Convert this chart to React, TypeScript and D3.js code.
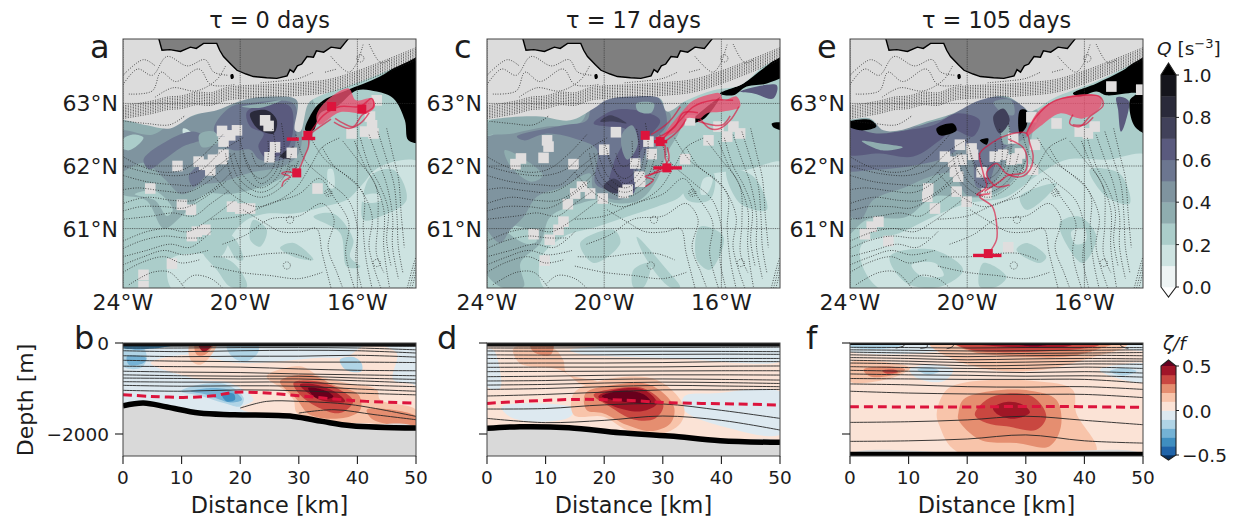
import React from "react";
import * as d3 from "d3";

type Pt = [number, number];
type Layer = [number, Pt[]];

// colour bands of the two colour bars
const qColors = ["#eef4f4", "#cde3e1", "#abcdca", "#8fadaf", "#7f949f", "#6c7690", "#5a5a7e", "#41415a", "#2a2a3a", "#15151c", "#000000"];
const zetaColors = ["#053061", "#1f63a8", "#3f8ec0", "#74b2d5", "#b0d4e6", "#dde9f0", "#fbe3d6", "#f8c4aa", "#e58e70", "#c94741", "#a01528", "#67001f"];
const qTicks = [0, 0.2, 0.4, 0.6, 0.8, 1];
const zetaTicks = [-0.5, 0, 0.5];
const lonTicks = [-24, -20, -16];
const latTicks = [61, 62, 63];
const kmTicks = [0, 10, 20, 30, 40, 50];
const depthTicks = [0, -2000];

// ---- map data, lon/lat ----
const land: Pt[] = [[-22.78, 64.1], [-22.78, 64.04], [-22.67, 63.85], [-22.4, 63.86], [-22.04, 63.83], [-21.7, 63.9], [-21.5, 63.88], [-21.25, 63.96], [-20.8, 63.96], [-20.7, 63.85], [-20.57, 63.75], [-20.3, 63.62], [-20.11, 63.53], [-19.8, 63.47], [-19.55, 63.43], [-19.1, 63.41], [-18.75, 63.4], [-18.4, 63.44], [-18.3, 63.54], [-18.18, 63.5], [-18.05, 63.6], [-17.9, 63.63], [-17.72, 63.75], [-17.5, 63.74], [-17.4, 63.84], [-17.15, 63.82], [-16.9, 63.9], [-16.58, 63.88], [-16.3, 64.04], [-16.3, 64.1]];
const island: Pt[] = [[-20.33, 63.46], [-20.25, 63.47], [-20.22, 63.41], [-20.3, 63.39]];

const slopeBand: Pt[] = [[-24, 62.76], [-23, 62.84], [-22.5, 62.9], [-22, 62.92], [-21.5, 62.98], [-21, 62.97], [-20.5, 63.05], [-20, 63.08], [-19, 63.1], [-18, 63.13], [-17, 63.18], [-16, 63.32], [-15, 63.5], [-14, 63.69]];
const slopeOffsets = [0, 0.025, 0.05, 0.075, 0.1, 0.125, 0.15, 0.175, 0.2];
const bathyLines: Pt[][] = [
  [[-23.8, 63.15], [-23, 63.2], [-22.7, 63.5], [-22.2, 63.35], [-21.4, 63.55], [-21, 63.3], [-20.2, 63.3]],
  [[-24, 63.3], [-23.5, 63.55], [-23, 63.45], [-22.5, 63.75], [-21.8, 63.6], [-21.2, 63.7], [-20.9, 63.5], [-20.4, 63.45]],
  [[-24, 63.45], [-23.3, 63.7], [-22.9, 63.6]],
  [[-22.9, 63.1], [-22.3, 63.25], [-21.5, 63.2], [-20.8, 63.38], [-20.5, 63.6]],
  [[-19.3, 63.33], [-18.6, 63.36], [-18, 63.4], [-17.5, 63.5]],
  [[-17.1, 63.5], [-16.7, 63.55]],
  [[-24, 62.72], [-23.2, 62.68], [-22.4, 62.66], [-21.9, 62.8]],
  [[-16.9, 63.75], [-16.3, 63.5], [-16.05, 63.62], [-15.8, 63.95]],
  [[-15.6, 63.95], [-15.2, 63.65], [-14.9, 63.7]],
  [[-20.6, 62.5], [-21.2, 62.2], [-21.9, 61.95], [-22.6, 61.9], [-23.4, 62], [-24, 62.15]],
  [[-19.9, 62.45], [-20.6, 62.25], [-21.3, 61.95], [-22, 61.85], [-23, 61.88], [-24, 62]],
  [[-20.2, 62.2], [-20.9, 61.95], [-21.5, 61.7], [-22.2, 61.7], [-23.2, 61.75], [-24, 61.85]],
  [[-20.4, 62.05], [-21.1, 61.75], [-21.8, 61.58], [-22.6, 61.6], [-23.5, 61.65], [-24, 61.62]],
  [[-20.3, 61.9], [-21, 61.6], [-21.6, 61.45], [-22.3, 61.45], [-23.2, 61.5], [-24, 61.4]],
  [[-20.5, 61.75], [-21.2, 61.5], [-21.9, 61.33], [-22.6, 61.35], [-23.4, 61.35], [-24, 61.28]],
  [[-20.4, 61.6], [-21, 61.4], [-21.6, 61.2], [-22.3, 61.25], [-23, 61.2], [-24, 61.15]],
  [[-20.2, 61.45], [-21.2, 61.1], [-21.8, 60.95], [-22.5, 61], [-23.2, 60.95], [-24, 60.8]],
  [[-21.3, 60.85], [-21.9, 60.85], [-22.6, 60.88], [-23.4, 60.8], [-24, 60.68]],
  [[-21, 60.95], [-21.7, 60.7], [-22.4, 60.75], [-23.2, 60.65], [-24, 60.55]],
  [[-21.1, 60.65], [-21.9, 60.58], [-22.6, 60.65], [-23.3, 60.55], [-24, 60.42]],
  [[-21.4, 60.5], [-22, 60.45], [-22.6, 60.55], [-23.4, 60.45], [-24, 60.3]],
  [[-21.9, 60.05], [-22.4, 60.3], [-23, 60.3], [-23.8, 60.1]],
  [[-20.6, 60.05], [-21, 60.2], [-21.6, 60.25], [-22, 60.1]],
  [[-20.2, 62.2], [-19.9, 61.85], [-19.3, 61.65], [-18.7, 61.85], [-18.5, 62.3], [-18.6, 62.7]],
  [[-20, 62.4], [-19.75, 62.05], [-19.3, 61.72], [-18.8, 61.9], [-18.6, 62.3]],
  [[-19.9, 62.2], [-19.7, 61.95], [-19.3, 61.8], [-18.9, 61.95], [-18.8, 62.3], [-18.9, 62.6]],
  [[-20.35, 62.2], [-20.05, 61.8], [-19.3, 61.58], [-18.55, 61.8], [-18.25, 62.2]],
  [[-20.5, 62.2], [-20.2, 61.75], [-19.3, 61.5], [-18.4, 61.75], [-18, 62.1]],
  [[-19.6, 62.2], [-19.4, 62], [-19.1, 62.05], [-19.05, 62.4]],
  [[-21, 61.9], [-20.3, 61.55], [-19.4, 61.35], [-18.2, 61.6], [-17.6, 62], [-17.2, 62.3], [-16.6, 62.45]],
  [[-18.1, 62.5], [-17.8, 62.1], [-17, 61.75], [-16.3, 61.45], [-16, 61], [-16.05, 60.5], [-15.85, 60.05]],
  [[-17.6, 62.45], [-17.1, 62.1], [-16.4, 61.85], [-15.8, 61.55], [-15.8, 61], [-15.7, 60.5], [-15.5, 60.05]],
  [[-17.2, 62.3], [-16.8, 62], [-16, 61.7], [-15.5, 61.2], [-15.6, 60.7], [-15.2, 60.05]],
  [[-16.5, 62.4], [-16, 62.1], [-15.5, 61.8], [-15.1, 61.3], [-15.1, 60.7], [-14.9, 60.05]],
  [[-16.1, 62.4], [-15.75, 62], [-15.35, 61.65], [-15.3, 61.1], [-15.35, 60.6], [-15.1, 60.3]],
  [[-15.9, 62.45], [-15.6, 62], [-15.25, 61.7], [-14.95, 61.3], [-15, 60.8], [-14.85, 60.4]],
  [[-15.6, 62.5], [-15.3, 62.1], [-15, 61.7], [-14.8, 61.2], [-14.8, 60.7], [-14.6, 60.2]],
  [[-15.3, 62.55], [-15, 62.1], [-14.75, 61.7], [-14.65, 61.2], [-14.6, 60.7], [-14.45, 60.3]],
  [[-15, 62.6], [-14.8, 62.2], [-14.6, 61.8], [-14.5, 61.2], [-14.4, 60.7]],
  [[-21, 61.15], [-20, 61.2], [-19, 61.4], [-18, 61.55], [-17.3, 61.8], [-16.8, 61.5], [-16.3, 61.1], [-16.4, 60.6], [-16.1, 60.05]],
  [[-20.6, 60.75], [-19.8, 60.9], [-19, 61.15], [-18, 61.2], [-17.2, 61.4], [-16.8, 61.15], [-17, 60.7], [-16.7, 60.3], [-16.5, 60.05]],
  [[-19.9, 61.3], [-19.2, 61.1], [-18.6, 60.95], [-17.9, 60.95], [-17.4, 61], [-17.2, 60.6], [-16.9, 60.05]],
  [[-20.9, 60.55], [-19.9, 60.55], [-19, 60.6], [-18.2, 60.6], [-17.6, 60.5]],
  [[-21, 60.4], [-20, 60.3], [-19, 60.25], [-18, 60.2], [-17.2, 60.3]],
  [[-14.3, 60.05], [-14.1, 60.4], [-14, 60.55]],
  [[-14.22, 60.05], [-14.05, 60.35], [-14, 60.45]],
  [[-14.14, 60.05], [-14.03, 60.25], [-14, 60.33]],
];
const bathyRings: Pt[] = [[-16.99, 61.57], [-16.99, 61.57], [-18.41, 60.41], [-18.3, 61.14], [-15.34, 60.45], [-15.9, 63.72], [-18.2, 61.95]];

const aShelf: Pt[] = [[-24.3, 64.3], [-24.3, 62.74], [-24, 62.74], [-23.18, 62.65], [-22.39, 62.6], [-21.59, 62.81], [-20.8, 62.89], [-20.23, 63], [-19.66, 63.08], [-18.86, 63.11], [-18.07, 63.05], [-18.13, 62.57], [-17.95, 62.55], [-17.67, 63], [-17.33, 63.11], [-16.36, 63.27], [-15.34, 63.45], [-14, 63.74], [-13.7, 63.85], [-13.7, 64.3]];
const cShelf: Pt[] = [[-24.3, 64.3], [-24.3, 62.74], [-24, 62.74], [-23.2, 62.78], [-22.18, 62.79], [-21.16, 62.73], [-20.36, 62.92], [-19.9, 63.06], [-19.11, 63.11], [-18.09, 63.08], [-17.86, 62.87], [-17.18, 63.05], [-16.27, 63.21], [-15.36, 63.29], [-14.57, 63.59], [-14, 63.74], [-13.7, 63.85], [-13.7, 64.3]];
const eShelf: Pt[] = [[-24.3, 64.3], [-24.3, 62.74], [-24, 62.74], [-23.32, 62.76], [-22.86, 62.57], [-22.3, 62.57], [-21.39, 62.71], [-20.48, 62.84], [-19.57, 63.05], [-18.66, 63.11], [-18.09, 62.95], [-17.86, 62.87], [-17.07, 63.08], [-16.39, 63.21], [-15.59, 63.35], [-14.68, 63.56], [-14, 63.74], [-13.7, 63.85], [-13.7, 64.3]];

const aQ: Layer[] = [
  [1, [[-22.27, 60], [-22.39, 60.5], [-21.36, 60.6], [-20.68, 60.55], [-20.23, 60.93], [-19.77, 61.14], [-19.09, 61.24], [-18.18, 61.24], [-17.16, 61.35], [-16.36, 61.46], [-15.9, 61.67], [-15.23, 61.99], [-13.8, 62.04], [-13.8, 60]]],
  [2, [[-18.64, 60.69], [-18.18, 60.77], [-17.5, 60.5], [-18.18, 60.55]]],
  [2, [[-17.5, 61.19], [-16.82, 61.24], [-16.14, 60.82], [-16.25, 60.55], [-15.9, 60.39], [-16.36, 60.39], [-16.59, 60.93]]],
  [2, [[-15.57, 61.83], [-14.77, 61.94], [-14.32, 61.46], [-15.23, 61.19], [-15.8, 61.14]]],
  [1, [[-15.9, 61.5], [-15.3, 61.55], [-15.2, 61.45], [-15.8, 61.42]]],
  [2, [[-21.25, 60.6], [-20.23, 60.45], [-19.77, 60.07], [-20.34, 60.07], [-20.8, 60.34]]],
  [2, [[-19.55, 61.14], [-19.09, 60.98], [-19.32, 60.71], [-19.66, 60.82]]],
  [2, [[-20.8, 61], [-20.2, 60.85], [-19.9, 60.5], [-20.1, 60.5], [-20.5, 60.8]]],
  [1, [[-17, 61.95], [-16.85, 61.95], [-16.8, 61.65], [-16.95, 61.65]]],
  [3, [[-24.2, 62.8], [-24.2, 61.6], [-23.2, 61.45], [-22.6, 61], [-22, 61.2], [-21.2, 61.55], [-20.4, 61.55], [-19.4, 61.65], [-18.6, 61.8], [-18, 62], [-17.6, 62.4], [-17.4, 62.9], [-18, 63.3], [-20, 63.3], [-22, 63]]],
  [2, [[-23.6, 61.55], [-22.9, 61.45], [-22.5, 61.2], [-22.3, 61.3], [-22.9, 61.6]]],
  [4, [[-24.2, 62.55], [-24.2, 61.9], [-23.3, 62.05], [-22.6, 61.8], [-22, 61.55], [-21.3, 61.7], [-20.6, 61.75], [-19.6, 61.9], [-18.5, 62], [-18, 62.2], [-17.9, 62.6], [-18.2, 63.2], [-20, 63.2], [-21.3, 62.85], [-22.3, 62.7], [-23, 62.5]]],
  [2, [[-24.2, 62.35], [-23.7, 62.5], [-23.3, 62.45], [-23.8, 62.25]]],
  [1, [[-21.95, 62.6], [-21.7, 62.55], [-21.6, 62.42], [-21.9, 62.45]]],
  [5, [[-23.3, 62.1], [-22.5, 62.4], [-21.6, 62.55], [-21.2, 62.45], [-22, 62.3], [-22.6, 62.1], [-23.1, 61.95]]],
  [5, [[-21.14, 61.88], [-21.6, 61.67], [-21.75, 61.85], [-21, 62.1]]],
  [5, [[-20.9, 62.6], [-20.3, 62.95], [-19.77, 63], [-18.18, 63], [-18.07, 62.68], [-18.3, 62.15], [-19.32, 62.1], [-19.66, 62.26], [-20.23, 62.25], [-20.6, 62.35]]],
  [3, [[-21.4, 62.5], [-20.9, 62.55], [-20.7, 62.4], [-21.3, 62.3]]],
  [6, [[-19.77, 62.87], [-18.86, 63], [-18.3, 62.95], [-18.18, 62.68], [-18.41, 62.26], [-19.09, 62.12], [-19.38, 62.31], [-19.2, 62.52], [-19.66, 62.63]]],
  [8, [[-19.66, 62.84], [-19.09, 62.89], [-18.75, 62.73], [-18.86, 62.52], [-19.32, 62.57], [-19.55, 62.68]]],
  [8, [[-18.64, 62.15], [-18.18, 62.31], [-18.3, 62.12]]],
  [3, [[-19.95, 62.95], [-19.3, 63], [-18.6, 63.05], [-19.3, 62.93]]],
  [10, [[-17.78, 62.57], [-17.5, 62.89], [-17.16, 63.05], [-16.36, 63.21], [-15.23, 63.43], [-13.8, 63.8], [-13.8, 62.39], [-14.26, 62.41], [-14.38, 62.73], [-14.77, 63.08], [-15.34, 63.19], [-16.02, 63.21], [-16.7, 62.95], [-17.27, 62.84], [-17.5, 62.57]]],
];
const cQ: Layer[] = [
  [1, [[-21.95, 60], [-22.18, 60.5], [-21.39, 60.87], [-20.25, 61.03], [-19.23, 61.19], [-18.2, 61.35], [-17.41, 61.51], [-16.95, 61.78], [-16.27, 61.88], [-15.14, 61.94], [-13.8, 62.04], [-13.8, 60]]],
  [2, [[-17.3, 61.78], [-16.27, 61.88], [-16.39, 61.46], [-17.18, 61.46]]],
  [2, [[-16.73, 61.03], [-15.93, 60.87], [-16.39, 60.34], [-16.84, 60.5]]],
  [2, [[-18.89, 60.87], [-17.86, 60.34], [-17.41, 60.06], [-17.75, 60.06], [-18.55, 60.5]]],
  [2, [[-19, 60.34], [-18.43, 60.45], [-18.66, 60.06], [-19, 60.06]]],
  [2, [[-15.82, 61.94], [-14.9, 61.83], [-14.45, 61.3], [-15.36, 61.4]]],
  [2, [[-20.82, 60.77], [-19.68, 60.98], [-19.45, 60.77], [-20.36, 60.45]]],
  [1, [[-16.6, 61.8], [-16.3, 61.82], [-16.5, 61.55], [-16.7, 61.55]]],
  [3, [[-24.2, 62.57], [-24.2, 60.45], [-23.55, 60.07], [-22.75, 60.07], [-22.86, 60.45], [-22.18, 60.77], [-21.84, 61.19], [-20.82, 61.4], [-20.25, 61.46], [-19.45, 61.4], [-18.77, 61.46], [-18.2, 61.78], [-17.86, 62.2], [-17.41, 62.57], [-17.18, 63], [-20.82, 63.2]]],
  [2, [[-24.2, 62.4], [-23.8, 62.5], [-23.5, 62.35], [-23.9, 62.25]]],
  [2, [[-23.5, 61.05], [-22.7, 61], [-22.3, 60.8], [-22.6, 60.75], [-23.2, 60.9]]],
  [4, [[-24.2, 62.41], [-24.2, 61.19], [-23.55, 60.77], [-23.2, 60.98], [-22.75, 61.19], [-22.3, 61.51], [-21.39, 61.67], [-20.48, 61.88], [-20.36, 61.62], [-19.45, 61.46], [-18.77, 61.72], [-18.55, 62.04], [-17.98, 62.47], [-17.75, 62.84], [-20.25, 63.2], [-20.8, 62.7], [-21.95, 62.63], [-23.1, 62.52]]],
  [3, [[-23.4, 62.25], [-22.7, 62.1], [-22.1, 61.85], [-22.5, 61.75], [-23.2, 62]]],
  [5, [[-22.98, 62.47], [-21.39, 62.65], [-20.59, 62.73], [-20.36, 63.05], [-18.3, 63.16], [-17.86, 62.68], [-18.3, 62.41], [-18.77, 62.04], [-19.11, 61.56], [-19.91, 61.62], [-20.3, 61.72], [-20.25, 62.26], [-20.82, 62.41], [-21.95, 62.52], [-22.75, 62.41]]],
  [6, [[-20.36, 62.68], [-19.68, 62.89], [-18.89, 62.89], [-18.09, 62.73], [-18.55, 62.41], [-19, 61.94], [-19, 61.56], [-19.8, 61.67], [-19.68, 62.04], [-19.23, 62.57], [-19.9, 62.63]]],
  [4, [[-19.4, 62.5], [-19.05, 62.65], [-18.85, 62.35], [-19.2, 62.1], [-19.35, 62.2]]],
  [3, [[-18.9, 63], [-18.3, 63], [-18.4, 62.85], [-18.85, 62.88]]],
  [7, [[-20.14, 62.71], [-19.8, 62.81], [-19.23, 62.68], [-19.68, 62.71]]],
  [7, [[-20.02, 61.67], [-19.57, 61.56], [-19.34, 61.67], [-19.68, 61.8]]],
  [6, [[-15.36, 63.19], [-14.11, 63.29], [-14.23, 63.08], [-14.9, 63.16]]],
  [10, [[-16.05, 63.16], [-15.25, 63.32], [-14.57, 63.56], [-13.8, 63.8], [-13.8, 63.48], [-14.45, 63.32], [-15.14, 63.27], [-15.59, 63.13]]],
  [10, [[-14.28, 62.68], [-13.8, 62.68], [-13.8, 62.57], [-14.23, 62.62]]],
  [10, [[-17.1, 62.68], [-16.27, 63.03], [-16.05, 63.1], [-16.6, 62.75]]],
];
const eQ: Layer[] = [
  [1, [[-22.86, 60], [-23.66, 60.55], [-23.55, 60.77], [-22.3, 60.93], [-21.16, 61.19], [-20.02, 61.4], [-18.66, 61.51], [-17.52, 61.88], [-16.61, 62.1], [-15.25, 62.1], [-13.8, 62.15], [-13.8, 60]]],
  [2, [[-16.84, 61.09], [-16.16, 61.19], [-15.59, 60.87], [-16.05, 60.45], [-16.5, 60.66]]],
  [1, [[-16.45, 60.95], [-16, 61], [-15.95, 60.8], [-16.3, 60.75]]],
  [2, [[-17.98, 60.77], [-17.3, 60.55], [-17.52, 60.45], [-18.32, 60.66]]],
  [2, [[-19.45, 60.45], [-18.66, 60.23], [-19, 60.07], [-19.57, 60.07]]],
  [2, [[-18.2, 61.51], [-16.95, 61.72], [-17.3, 61.51], [-17.98, 61.3]]],
  [2, [[-22.64, 60.55], [-21.16, 60.66], [-20.14, 60.34], [-20.93, 60.07], [-22.07, 60.13]]],
  [1, [[-21.9, 60.42], [-21.1, 60.45], [-20.8, 60.25], [-21.6, 60.25]]],
  [2, [[-15.82, 61.94], [-14.8, 61.88], [-14.45, 61.4], [-15.25, 61.51]]],
  [3, [[-24.2, 62.74], [-24.2, 60.87], [-23.43, 61.14], [-22.07, 61.19], [-21.16, 61.51], [-20.36, 61.51], [-19.34, 61.51], [-18.66, 61.67], [-18, 62.04], [-17.75, 62.57], [-17.52, 62.84], [-19.8, 63.2]]],
  [4, [[-24.2, 62.57], [-24.2, 61.3], [-23.66, 61.14], [-23.2, 61.46], [-22.07, 61.67], [-21.27, 61.83], [-20.48, 61.88], [-20.02, 61.54], [-19.34, 61.56], [-18.89, 61.88], [-18.43, 62.31], [-17.86, 62.52], [-17.86, 62.89], [-19.57, 63.16], [-21.16, 62.68]]],
  [5, [[-24.2, 62.2], [-24.2, 61.94], [-23.2, 61.94], [-22.07, 61.99], [-20.93, 62.1], [-19.91, 62.31], [-19.68, 61.67], [-19.34, 61.67], [-18.89, 62.2], [-18.09, 62.57], [-18.09, 62.95], [-19.57, 63.11], [-20.59, 62.79], [-21.39, 62.68], [-22.41, 62.52], [-23.2, 62.41]]],
  [6, [[-24.2, 62.63], [-24.2, 62.2], [-22.98, 62.2], [-21.84, 62.15], [-20.93, 62.41], [-20.48, 62.57], [-19.8, 62.47], [-19.57, 62.73], [-20.36, 62.84], [-21.16, 62.65], [-22.07, 62.57], [-23.1, 62.52]]],
  [3, [[-23.6, 62.4], [-22.8, 62.35], [-22.2, 62.3], [-22.9, 62.25]]],
  [4, [[-19.1, 63.02], [-18.5, 63.05], [-18.4, 62.82], [-18.8, 62.85]]],
  [3, [[-18.85, 62.6], [-18.6, 62.65], [-18.55, 62.35], [-18.75, 62.35]]],
  [7, [[-19.11, 62.79], [-18.77, 62.92], [-18.55, 62.73], [-18.89, 62.52]]],
  [10, [[-21.05, 62.6], [-20.48, 62.68], [-20.36, 62.57], [-20.93, 62.49]]],
  [10, [[-18.2, 62.89], [-17.98, 62.89], [-17.98, 62.63], [-18.2, 62.52]]],
  [10, [[-19.57, 62.41], [-19.28, 62.44], [-19.34, 62.34]]],
  [10, [[-24.2, 62.68], [-23.32, 62.74], [-23.1, 62.63], [-23.66, 62.57]]],
  [6, [[-14.9, 63.1], [-14.5, 63.05], [-14.6, 62.7], [-14.75, 62.55], [-14.85, 62.9]]],
  [10, [[-16.39, 63.16], [-15.59, 63.32], [-14.68, 63.53], [-13.8, 63.8], [-13.8, 62.52], [-14.28, 62.63], [-14.45, 63.05], [-14.23, 63.16], [-15.25, 63.13], [-15.59, 63.19], [-16.16, 63.11]]],
];

const aMasks: Pt[] = [[-19.15, 62.73], [-19.03, 62.64], [-18.81, 62.3], [-19, 62.14], [-18.24, 62.21], [-20.62, 62.56], [-20.34, 62.49], [-20.11, 62.57], [-20.57, 62.39], [-20.57, 62.18], [-20.62, 62.11], [-20.93, 62.1], [-21.42, 62.07], [-21.23, 62.02], [-21.02, 61.93], [-22.14, 62], [-23.07, 61.64], [-21.99, 61.38], [-21.68, 61.3], [-20.28, 61.35], [-20, 61.32], [-19.66, 61.32], [-21.19, 60.98], [-21.48, 60.95], [-21.65, 60.88], [-22.33, 60.44], [-23.3, 60.26], [-23.3, 60.08], [-17.36, 61.64], [-15.34, 63.05], [-16.2, 62.52], [-15.74, 62.55], [-15.45, 62.52], [-15.57, 62.79], [-15.5, 62.65]];
const cMasks: Pt[] = [[-21.95, 62.41], [-21.9, 62.31], [-22.84, 62.12], [-23.03, 62.03], [-22.07, 62.13], [-21.05, 62.03], [-20, 62.26], [-19.6, 62.54], [-18.94, 62.04], [-18.38, 62.19], [-18.8, 61.83], [-18.77, 61.75], [-19.34, 61.57], [-19.2, 61.62], [-20.76, 61.67], [-20.99, 61.56], [-20.48, 61.56], [-20.05, 61.48], [-21.24, 61.39], [-21.39, 61.11], [-21.56, 60.98], [-22.41, 60.91], [-21.86, 60.82], [-22.03, 60.49], [-17.24, 62.11], [-18.49, 62.39], [-17.07, 62.73], [-16.44, 62.41], [-15.59, 62.63], [-15.36, 62.52], [-15.8, 62.47], [-16.1, 62.63]];
const eMasks: Pt[] = [[-20.25, 62.34], [-20.76, 62.15], [-20.48, 62.07], [-20.19, 62.1], [-20.42, 61.91], [-20.31, 61.83], [-19.85, 62.28], [-19.8, 62.18], [-19.51, 61.9], [-19.06, 62.15], [-18.77, 62.18], [-18.49, 62.1], [-18.3, 62.12], [-18.43, 62.44], [-18.2, 62.2], [-17.69, 62.34], [-17.81, 62.78], [-17.75, 61.94], [-20.36, 61.59], [-20.02, 61.43], [-21.33, 61.64], [-21.36, 61.51], [-21.1, 61.32], [-23.03, 61.11], [-23.26, 61.03], [-23.49, 60.91], [-22.69, 60.8], [-18.6, 60.7], [-15.08, 63.27], [-14.06, 63.22], [-16.16, 62.55], [-15.88, 62.52], [-15.65, 62.63], [-16.95, 62.68], [-19.34, 61.56]];

// float tracks, patches where they pile up, marker squares and section bars
const aPatch: Pt[] = [[-17.4, 62.8], [-17.1, 63.02], [-16.3, 63.24], [-16.05, 63.05], [-15.5, 63.08], [-15.4, 62.95], [-15.68, 62.84], [-16.6, 62.86], [-17.3, 62.66]];
const cPatch: Pt[] = [[-17.3, 62.89], [-16.95, 63.05], [-16.27, 63.16], [-16.05, 63.16], [-15.93, 63.05], [-15.48, 63.11], [-15.36, 62.95], [-15.93, 62.87], [-16.5, 62.84], [-16.73, 62.76], [-17.18, 62.76], [-17.3, 62.63], [-17.86, 62.47], [-18.09, 62.41]];
const ePatch: Pt[] = [[-17.64, 62.84], [-17.07, 63.03], [-16.39, 63.13], [-15.48, 63.11], [-15.42, 62.97], [-16.05, 62.76], [-16.84, 62.84], [-17.52, 62.63], [-17.98, 62.47]];
const aTracks: Pt[][] = [
  [[-17.67, 62.49], [-17.39, 62.68], [-17.16, 62.81], [-16.59, 62.95], [-15.91, 62.95], [-15.51, 63.08], [-15.45, 62.95], [-15.85, 62.81], [-16.14, 62.63], [-16.59, 62.71], [-16.76, 62.76]],
  [[-16.8, 62.7], [-16.3, 62.6], [-15.9, 62.68], [-15.6, 62.85]],
  [[-17.67, 62.49], [-17.3, 62.62], [-16.9, 62.75]],
  [[-17.67, 62.49], [-17.67, 62.31], [-17.78, 62.18], [-17.95, 61.99], [-18.07, 61.89], [-18.41, 61.91], [-18.58, 61.88], [-18.3, 61.83], [-18.52, 61.75], [-18.58, 61.67]],
];
const cTracks: Pt[][] = [
  [[-18.09, 62.39], [-17.41, 62.73], [-16.95, 62.95], [-16.3, 63.05], [-15.6, 63.05]],
  [[-18.2, 62.45], [-17.6, 62.62], [-17.3, 62.85], [-16.8, 62.85]],
  [[-18.05, 62.35], [-17.5, 62.55], [-17.2, 62.75]],
  [[-18.4, 62.5], [-17.8, 62.7], [-17.4, 62.95]],
  [[-16.73, 62.76], [-16.39, 62.6], [-16.05, 62.6], [-15.7, 62.73], [-15.4, 62.95]],
  [[-16.8, 62.72], [-16.35, 62.66], [-15.95, 62.66], [-15.7, 62.8]],
  [[-17.92, 62.34], [-17.92, 62.15], [-17.86, 61.97], [-18.32, 61.88], [-18.6, 61.83], [-18.32, 61.78], [-18.6, 61.67]],
  [[-17.85, 62.3], [-17.8, 62.1], [-18.1, 61.95], [-18.45, 61.85]],
];
const eTracks: Pt[][] = [
  [[-19.28, 60.6], [-19, 60.82], [-19, 61.09], [-19.14, 61.35], [-19.57, 61.51], [-19.23, 61.56], [-19.68, 61.54], [-19.34, 61.67], [-19.45, 61.88], [-19.57, 62.2], [-19.34, 62.31], [-18.66, 62.49], [-17.98, 62.52], [-17.86, 62.36], [-17.75, 62.15], [-17.86, 61.94], [-18.15, 61.83], [-18.66, 61.88], [-19, 62.04], [-19.34, 61.88], [-19, 61.67], [-18.55, 61.7]],
  [[-17.98, 62.52], [-17.64, 62.79], [-17.07, 63.03], [-16.39, 63.11], [-15.48, 63.11], [-15.36, 62.97], [-15.82, 62.79], [-16.16, 62.63], [-16.5, 62.68], [-16.39, 62.82]],
  [[-18.6, 62.43], [-18.1, 62.3], [-17.95, 62.1], [-18.05, 61.9], [-18.6, 61.85], [-18.9, 61.75], [-19.4, 61.6]],
  [[-16.4, 62.66], [-16, 62.66], [-15.7, 62.78]],
];
const aMarkers: Pt[] = [[-16.88, 62.95], [-15.85, 62.91], [-17.69, 62.49], [-18.07, 61.89]];
const cMarkers: Pt[] = [[-18.6, 62.49], [-18.09, 62.39], [-17.86, 61.97]];
const eMarkers: Pt[] = [[-19.28, 60.6]];
const aBars: [number, number, number][] = [[-18.41, -18, 62.43], [-17.9, -17.44, 62.44]];
const cBars: [number, number, number][] = [[-18.32, -17.35, 61.97], [-18.3, -17.85, 62.39]];
const eBars: [number, number, number][] = [[-19.8, -18.83, 60.57]];

// ---- section data, km / depth in metres below surface ----
const secKm = [0, 10, 20, 30, 40, 50];
const bDensity = [
  [60, 60, 50, 50, 60, 70], [110, 110, 100, 100, 110, 150], [170, 190, 170, 160, 170, 220], [280, 300, 290, 290, 270, 310],
  [380, 400, 410, 420, 420, 430], [510, 520, 530, 570, 600, 610], [620, 640, 650, 680, 700, 720], [700, 720, 730, 730, 770, 800],
  [770, 780, 790, 790, 830, 880], [850, 860, 860, 860, 920, 960], [930, 950, 940, 950, 1010, 1060], [1040, 1060, 1030, 1050, 1100, 1140],
];
const dDensity = [
  [110, 110, 105, 100, 95, 90], [175, 180, 180, 180, 185, 190], [260, 265, 260, 250, 245, 250], [340, 345, 345, 345, 340, 340],
  [445, 440, 440, 430, 410, 410], [535, 530, 530, 525, 510, 505], [630, 625, 620, 615, 610, 610], [740, 730, 710, 700, 700, 705],
  [835, 825, 800, 790, 800, 815], [925, 910, 880, 860, 870, 890], [1020, 1000, 960, 930, 945, 960], [1165, 1130, 1080, 1030, 1030, 1020],
  [1451, 1440, 1360, 1340, 1480, 1657], [1657, 1750, 1700, 1605, 1700, 1913],
];
const fDensity = [
  [95, 100, 110, 100, 100, 100], [150, 160, 175, 170, 160, 150], [200, 220, 240, 230, 220, 210], [260, 280, 300, 280, 270, 280],
  [320, 340, 370, 350, 340, 350], [380, 400, 430, 420, 400, 400], [440, 460, 500, 490, 460, 470], [520, 540, 560, 560, 530, 560],
  [600, 620, 630, 650, 630, 660], [680, 700, 710, 730, 720, 750], [780, 790, 800, 800, 800, 880], [900, 920, 960, 970, 960, 1020],
  [1060, 1100, 1120, 1130, 1130, 1200], [1745, 1730, 1690, 1610, 1700, 1796], [2162, 2150, 2110, 2020, 2150, 2200],
];
const bPartial: Pt[][] = [
  [[20, 1430], [24.5, 1283], [30, 1283], [39, 1356], [50, 1613]],
  [[30, 1540], [36, 1466], [43, 1576], [50, 1686]],
];
const fZeroLines: Pt[][] = [
  [[9.4, 0], [9.2, 60], [7.8, 110]], [[13, 0], [13.2, 80], [12, 120]], [[17.8, 0], [17.5, 80], [16.5, 125]], [[46, 0], [46.3, 70], [47.5, 120]],
];
const bTopo: Pt[] = [[0, 1378], [3.5, 1319], [7.5, 1407], [13, 1539], [19, 1576], [29, 1613], [34, 1723], [39, 1818], [50, 1869]];
const dTopo: Pt[] = [[0, 1876], [5.6, 1840], [14, 1862], [22.7, 1972], [31.2, 2045], [39.8, 2148], [50, 2184]];
const fTopo: Pt[] = [[0, 2450], [25, 2450], [50, 2450]];
const bCore: Pt[] = [[0, 1136], [4.7, 1173], [11, 1195], [15.5, 1158], [19, 1085], [24.5, 1100], [30, 1158], [36, 1231], [41.6, 1283], [50, 1320]];
const dCore: Pt[] = [[0, 1327], [8.5, 1268], [15.9, 1239], [22.7, 1253], [31.3, 1312], [42.7, 1341], [50, 1363]];
const fCore: Pt[] = [[0, 1400], [19.3, 1407], [30.7, 1393], [50, 1414]];

const bZeta: Layer[] = [
  [6, [[4.7, 440], [13.2, 806], [18.3, 880], [22.3, 1246], [20, 1430], [30, 1686], [50, 1906], [50, 953], [46.1, 806], [46.7, 220], [41.6, 37], [38.2, 293], [33, 330], [20, 440], [10.9, 257]]],
  [7, [[11.5, 0], [11.5, 366], [13.2, 476], [14.9, 293], [16, 0]]],
  [8, [[12.3, 0], [12.6, 257], [14, 257], [15.5, 0]]],
  [10, [[12.9, 37], [13.8, 198], [15.2, 37]]],
  [4, [[0, 73], [0, 513], [3, 550], [4, 366], [3.5, 110]]],
  [3, [[0.7, 293], [1, 476], [3.5, 440], [4, 330]]],
  [4, [[17.7, 73], [18.9, 330], [21, 403], [23, 220], [23, 37]]],
  [4, [[37, 366], [38, 586], [40.7, 623], [40.7, 440], [39.3, 308]]],
  [4, [[9.8, 1063], [13, 916], [17.7, 916], [20.6, 1210], [20, 1393], [17.2, 1320], [13.2, 1158]]],
  [3, [[11.5, 1063], [15.5, 990], [18.9, 1063], [20.3, 1246], [18.3, 1305], [14.3, 1136]]],
  [2, [[16.9, 1136], [18.9, 1114], [19.1, 1246], [17.7, 1283]]],
  [2, [[0, -30], [0, 100], [8, 70], [10, -30]]],
  [7, [[24.5, 733], [30.2, 513], [33.6, 733], [38.2, 880], [43.3, 1026], [43.9, 1246], [50, 1466], [50, 1832], [41.6, 1760], [35.9, 1760], [29.7, 1540], [29.1, 1246], [27.4, 1026]]],
  [8, [[26.8, 843], [31.9, 696], [35.9, 916], [40.2, 1136], [40.5, 1466], [37.6, 1650], [31.9, 1576], [29.7, 1246]]],
  [8, [[41.6, 1466], [50, 1613], [50, 1796], [42.7, 1686]]],
  [9, [[29.1, 880], [33, 843], [37, 1026], [39.3, 1283], [37, 1540], [33, 1393], [30.2, 1136]]],
  [10, [[30.2, 916], [33, 916], [36.5, 1100], [37.9, 1283], [33.6, 1246]]],
  [11, [[31.6, 990], [34.8, 1063], [35.9, 1188], [33, 1210]]],
];
const dZeta: Layer[] = [
  [5, [[0, 154], [0, 960], [2.2, 997], [2.2, 594], [1.1, 154]]],
  [5, [[2.5, 1400], [14.8, 1437], [14.2, 1620], [8.5, 1730], [3.9, 1620]]],
  [5, [[33.6, 1180], [38.7, 1107], [50.5, 1107], [50.5, 1986], [40.4, 1840], [33.6, 1473]]],
  [5, [[14.2, 154], [50.5, 117], [50.5, 374], [31.3, 337], [15.3, 227]]],
  [7, [[4.5, 117], [11.3, 117], [13, 374], [13.6, 667], [18.8, 850], [16.5, 924], [12.5, 594], [5.6, 447]]],
  [7, [[19.9, 813], [29, 813], [33.6, 1400], [33, 1767], [29, 2023], [23.9, 1913], [19.9, 1620], [14.8, 1583], [14.8, 1107]]],
  [8, [[16.8, 1107], [21.6, 924], [27.9, 924], [31.9, 1400], [31.3, 1767], [27.9, 1935], [23.9, 1803], [19.9, 1547], [17, 1473]]],
  [9, [[18.2, 1143], [22.2, 997], [26.7, 997], [30.1, 1363], [28.7, 1657], [25, 1679], [21, 1400]]],
  [10, [[19, 1180], [22.6, 1010], [27, 1040], [29, 1330], [26.4, 1500], [21.8, 1400]]],
  [11, [[19.6, 1170], [23, 1050], [26.6, 1120], [28, 1300], [23.3, 1290]]],
  [8, [[7.4, 22], [11.3, 22], [10.8, 264], [7.9, 190]]],
];
const fZeta: Layer[] = [
  [5, [[-1, -20], [-1, 150], [17, 120], [17.8, -20]]],
  [4, [[-1, -20], [0, 90], [8, 90], [9.4, -20]]],
  [5, [[10.2, 586], [13.6, 476], [17.6, 586], [15.9, 843], [11.4, 770]]],
  [4, [[11.5, 586], [13.6, 535], [15.3, 623], [13.4, 696]]],
  [5, [[42.6, 586], [46, 476], [50.5, 476], [50.5, 843], [45.5, 770]]],
  [4, [[44.3, 623], [46.6, 550], [48.9, 623], [46.6, 718]]],
  [5, [[46.5, -20], [46.6, 100], [50.5, 150], [50.5, -20]]],
  [7, [[13.4, -20], [16.5, 293], [23.9, 586], [33, 586], [42, 293], [46.6, 110], [47.7, -20]]],
  [8, [[17.6, -20], [20.5, 183], [28.4, 293], [37.5, 293], [43, 110], [45.5, -20]]],
  [9, [[17.6, -20], [20.5, 147], [36.4, 161], [42.6, 37], [42.6, -20]]],
  [10, [[18.2, -20], [25, 73], [31.8, 110], [37.5, 59], [38.6, -20]]],
  [11, [[26, -20], [31.8, 73], [35.8, -20]]],
  [7, [[0, 440], [4.5, 403], [10.2, 550], [8, 733], [2.3, 880], [0, 843]]],
  [8, [[2.3, 586], [6.2, 513], [9.4, 586], [6.8, 718], [3.4, 733]]],
  [9, [[5.5, 610], [7.7, 590], [8.2, 640], [6.2, 670]]],
  [7, [[16.5, 1026], [21, 843], [31.8, 843], [38, 1026], [38.6, 1539], [42, 2382], [18.2, 2382], [15.3, 1832], [14.8, 1539]]],
  [8, [[18.5, 1539], [19.3, 1246], [23.9, 1063], [30.7, 1048], [35.2, 1246], [36, 1832], [34, 2272], [28.4, 2199], [22.2, 2126], [18.5, 1686]]],
  [9, [[21.3, 1576], [23.3, 1246], [26.7, 1114], [31.25, 1187], [33.5, 1613], [31.8, 1906], [26.7, 1832], [23.3, 1759]]],
  [10, [[24.4, 1429], [26.7, 1297], [29.5, 1356], [30.7, 1525], [28, 1664], [25.3, 1576]]],
];

const FONT = "DejaVu Sans, Verdana, sans-serif";
const INK = "#1c1c1c";
const RED = "#dc143c";

const polyPath = d3.line().curve(d3.curveCatmullRomClosed.alpha(0.5));
const openPath = d3.line().curve(d3.curveCatmullRom.alpha(0.5));

const mapTop = 39, mapBottom = 288, mapWidth = 293;
const secTop = 343, secBottom = 456;

function MapPanel({ left, id, title, letter, layers, shelf, masks, patch, tracks, markers, bars }: any) {
  const x = d3.scaleLinear().domain([-24, -14]).range([left, left + mapWidth]);
  const y = d3.scaleLinear().domain([60.05, 64.03]).range([mapBottom, mapTop]);
  const project = (pts: Pt[]) => pts.map((p) => [x(p[0]), y(p[1])] as Pt);
  const cellW = x(-23.64) - x(-24), cellH = y(62) - y(62.17);
  return (
    <g>
      <clipPath id={id}><rect x={left} y={mapTop} width={mapWidth} height={mapBottom - mapTop} /></clipPath>
      <g clipPath={`url(#${id})`}>
        <g filter="url(#soft)">
          <rect x={left} y={mapTop} width={mapWidth} height={mapBottom - mapTop} fill={qColors[2]} />
          {layers.map((l: Layer, i: number) => <path key={i} d={polyPath(project(l[1])) as string} fill={qColors[l[0]]} />)}
          <path d={polyPath(project(shelf)) as string} fill="#dcdcdc" />
          <path d={d3.line()(project(land)) as string} fill="#7f7f7f" stroke="#000" strokeWidth={1.4} />
          <path d={polyPath(project(island)) as string} fill="#000" />
          {masks.map((m: Pt, i: number) => (
            <rect key={i} x={x(m[0]) - cellW / 2} y={y(m[1]) - cellH / 2} width={cellW} height={cellH} fill="#e0dede" />
          ))}
        </g>
        <g fill="none" stroke="#1c1c1c" strokeWidth={0.8} strokeDasharray="0.9 1.6">
          {slopeOffsets.map((off) => (
            <path key={off} d={openPath(project(slopeBand.map((p) => [p[0], p[1] + off] as Pt))) as string} />
          ))}
          {bathyLines.map((line, i) => <path key={i} d={openPath(project(line)) as string} />)}
          {bathyRings.map((r, i) => <circle key={i} cx={x(r[0])} cy={y(r[1])} r={i === 1 ? 1.8 : 3.6} />)}
        </g>
        <g stroke="#2c2c2c" strokeWidth={0.8} strokeDasharray="1 0.8" opacity={0.8}>
          {lonTicks.map((t) => <line key={t} x1={x(t)} x2={x(t)} y1={mapTop} y2={mapBottom} />)}
          {latTicks.map((t) => <line key={t} x1={left} x2={left + mapWidth} y1={y(t)} y2={y(t)} />)}
        </g>
        <path d={polyPath(project(patch)) as string} fill="#e8506f" opacity={0.8} />
        <g fill="none" stroke={RED} strokeOpacity={0.65} strokeWidth={1.5} strokeLinejoin="round">
          {tracks.map((t: Pt[], i: number) => <path key={i} d={openPath(project(t)) as string} />)}
        </g>
        {bars.map((b: number[], i: number) => (
          <line key={i} x1={x(b[0])} x2={x(b[1])} y1={y(b[2])} y2={y(b[2])} stroke={RED} strokeWidth={3.4} />
        ))}
        {markers.map((m: Pt, i: number) => (
          <rect key={i} x={x(m[0]) - 4.5} y={y(m[1]) - 4.5} width={9} height={9} fill={RED} />
        ))}
      </g>
      <rect x={left} y={mapTop} width={mapWidth} height={mapBottom - mapTop} fill="none" stroke="#444" strokeWidth={1} />
      <text x={left + mapWidth / 2} y={28} textAnchor="middle" fontSize={22.4} fill={INK}>{title}</text>
      <text x={left - 33} y={58} fontSize={32} fill={INK}>{letter}</text>
      {latTicks.map((t) => (
        <text key={t} x={left - 5} y={y(t) + 8} textAnchor="end" fontSize={22} fill={INK}>{t}°N</text>
      ))}
      {lonTicks.map((t) => (
        <text key={t} x={x(t)} y={310} textAnchor="middle" fontSize={22} fill={INK}>{Math.abs(t)}°W</text>
      ))}
    </g>
  );
}

function SectionPanel({ left, id, letter, letterX, baseLevel, zeta, density, partial, topo, core, topLine, showDepth }: any) {
  const x = d3.scaleLinear().domain([0, 50]).range([left, left + mapWidth]);
  const y = d3.scaleLinear().domain([0, 2000]).range([secTop, 434]);
  const project = (pts: Pt[]) => pts.map((p) => [x(p[0]), y(p[1])] as Pt);
  const maxDepth = y.invert(secBottom + 10);
  return (
    <g>
      <clipPath id={id}><rect x={left} y={secTop} width={mapWidth} height={secBottom - secTop} /></clipPath>
      <g clipPath={`url(#${id})`}>
        <g filter="url(#soft)">
          <rect x={left} y={secTop} width={mapWidth} height={secBottom - secTop} fill={zetaColors[baseLevel]} />
          {zeta.map((l: Layer, i: number) => <path key={i} d={polyPath(project(l[1])) as string} fill={zetaColors[l[0]]} />)}
        </g>
        <g fill="none" stroke="#262626" strokeWidth={0.9}>
          {density.map((row: number[], i: number) => (
            <path key={i} d={openPath(project(secKm.map((k, j) => [k, row[j]] as Pt))) as string} />
          ))}
          {partial.map((p: Pt[], i: number) => <path key={i} d={openPath(project(p)) as string} />)}
        </g>
        <path
          d={openPath(project([[0, maxDepth] as Pt, ...topo, [50, maxDepth] as Pt])) as string}
          fill="#d9d9d9" stroke="none"
        />
        <path d={openPath(project(topo)) as string} fill="none" stroke="#000" strokeWidth={5.5} />
        <line x1={left} x2={left + mapWidth} y1={secTop + 1} y2={secTop + 1} stroke="#111" strokeWidth={topLine} />
        <path d={openPath(project(core)) as string} fill="none" stroke={RED} strokeWidth={3} strokeDasharray="9 5" />
      </g>
      <rect x={left} y={secTop} width={mapWidth} height={secBottom - secTop} fill="none" stroke="#444" strokeWidth={1} />
      {kmTicks.map((t) => (
        <g key={t}>
          <line x1={x(t)} x2={x(t)} y1={secBottom} y2={secBottom + 8} stroke={INK} strokeWidth={1.1} />
          <text x={x(t)} y={484} textAnchor="middle" fontSize={18.5} fill={INK}>{t}</text>
        </g>
      ))}
      {depthTicks.map((t) => (
        <g key={t}>
          <line x1={left - 8} x2={left} y1={y(-t)} y2={y(-t)} stroke={INK} strokeWidth={1.1} />
          {showDepth && <text x={left - 14} y={y(-t) + 7} textAnchor="end" fontSize={18.5} fill={INK}>{t < 0 ? `\u2212${-t}` : t}</text>}
        </g>
      ))}
      <text x={left + mapWidth / 2} y={513} textAnchor="middle" fontSize={22.4} fill={INK}>Distance [km]</text>
      <text x={letterX} y={349} fontSize={32} fill={INK}>{letter}</text>
    </g>
  );
}

function ColorBar({ colors, ticks, domain, range, tipTop, tipBottom, format }: any) {
  const left = 1161, right = 1176;
  const y = d3.scaleLinear().domain(domain).range(range);
  const n = colors.length - 2;
  const step = (domain[1] - domain[0]) / n;
  const bands = d3.range(n).map((i) => domain[0] + i * step);
  const outline = `M${left},${y(domain[0])}L${(left + right) / 2},${tipBottom}L${right},${y(domain[0])}L${right},${y(domain[1])}L${(left + right) / 2},${tipTop}L${left},${y(domain[1])}Z`;
  return (
    <g>
      <path d={`M${left},${y(domain[0])}L${(left + right) / 2},${tipBottom}L${right},${y(domain[0])}Z`} fill={colors[0]} />
      <path d={`M${left},${y(domain[1])}L${(left + right) / 2},${tipTop}L${right},${y(domain[1])}Z`} fill={colors[colors.length - 1]} />
      {bands.map((b, i) => (
        <rect key={i} x={left} y={y(b + step)} width={right - left} height={y(b) - y(b + step) + 0.3} fill={colors[i + 1]} />
      ))}
      <path d={outline} fill="none" stroke="#222" strokeWidth={1.1} />
      {ticks.map((t: number) => (
        <g key={t}>
          <line x1={right} x2={right + 3} y1={y(t)} y2={y(t)} stroke={INK} strokeWidth={1} />
          <text x={1182} y={y(t) + 7} fontSize={18.5} fill={INK}>{format(t)}</text>
        </g>
      ))}
    </g>
  );
}

const qBarColors = ["#ffffff", ...qColors];
const fmt = (t: number) => (t < 0 ? `\u2212${(-t).toFixed(1)}` : t.toFixed(1));

export default function App() {
  return (
    <svg width={1235} height={519} fontFamily={FONT} style={{ position: "absolute", left: 0, top: 0, background: "#fff" }}>
      <defs>
        <filter id="soft" x="-2%" y="-2%" width="104%" height="104%"><feGaussianBlur stdDeviation="0.7" /></filter>
      </defs>
      <MapPanel left={123} id="ma" title="τ = 0 days" letter="a" layers={aQ} shelf={aShelf} masks={aMasks} patch={aPatch} tracks={aTracks} markers={aMarkers} bars={aBars} />
      <MapPanel left={487} id="mc" title="τ = 17 days" letter="c" layers={cQ} shelf={cShelf} masks={cMasks} patch={cPatch} tracks={cTracks} markers={cMarkers} bars={cBars} />
      <MapPanel left={850} id="me" title="τ = 105 days" letter="e" layers={eQ} shelf={eShelf} masks={eMasks} patch={ePatch} tracks={eTracks} markers={eMarkers} bars={eBars} />
      <SectionPanel left={123} id="sb" letter="b" letterX={74} baseLevel={5} zeta={bZeta} density={bDensity} partial={bPartial} topo={bTopo} core={bCore} topLine={5} showDepth />
      <SectionPanel left={487} id="sd" letter="d" letterX={437} baseLevel={6} zeta={dZeta} density={dDensity} partial={[]} topo={dTopo} core={dCore} topLine={5} showDepth={false} />
      <SectionPanel left={850} id="sf" letter="f" letterX={806} baseLevel={6} zeta={fZeta} density={fDensity} partial={fZeroLines} topo={fTopo} core={fCore} topLine={2} showDepth={false} />
      <text transform="translate(33,400) rotate(-90)" textAnchor="middle" fontSize={22} fill={INK}>Depth [m]</text>
      <ColorBar colors={qBarColors} ticks={qTicks} domain={[0, 1]} range={[287, 75]} tipTop={63} tipBottom={297} format={fmt} />
      <ColorBar colors={zetaColors} ticks={zetaTicks} domain={[-0.5, 0.5]} range={[455, 366]} tipTop={360} tipBottom={460} format={fmt} />
      <text x={1157} y={55} fontSize={18.5} fill={INK}><tspan fontStyle="italic">Q</tspan> [s<tspan dy={-7} fontSize={13}>−3</tspan><tspan dy={7}>]</tspan></text>
      <text x={1163} y={350} fontSize={18.5} fontStyle="italic" fill={INK}>ζ/f</text>
    </svg>
  );
}
